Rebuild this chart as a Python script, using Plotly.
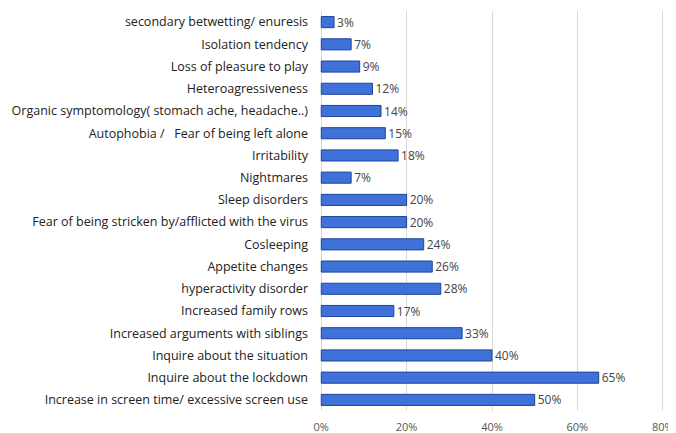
import plotly.graph_objects as go

categories = [
    "secondary betwetting/ enuresis",
    "Isolation tendency",
    "Loss of pleasure to play",
    "Heteroagressiveness",
    "Organic symptomology( stomach ache, headache..)",
    "Autophobia /   Fear of being left alone",
    "Irritability",
    "Nightmares",
    "Sleep disorders",
    "Fear of being stricken by/afflicted with the virus",
    "Cosleeping",
    "Appetite changes",
    "hyperactivity disorder",
    "Increased family rows",
    "Increased arguments with siblings",
    "Inquire about the situation",
    "Inquire about the lockdown",
    "Increase in screen time/ excessive screen use",
]
values = [3, 7, 9, 12, 14, 15, 18, 7, 20, 20, 24, 26, 28, 17, 33, 40, 65, 50]
tick_vals = [0, 20, 40, 60, 80]
tick_text = ["0%", "20%", "40%", "60%", "80%"]

fig = go.Figure(go.Bar(
    x=values,
    y=categories,
    orientation="h",
    width=0.5,
    marker=dict(color="#3E72D8", line=dict(color="#1D449A", width=1)),
    text=[f"{v}%" for v in values],
    textposition="outside",
    constraintext="none",
    textfont=dict(size=12, color="#444444"),
    cliponaxis=False,
))

# page body has an 8px margin, so the figure is offset by 8px
fig.update_layout(
    width=690, height=425,
    margin=dict(l=309, r=31, t=3, b=22, autoexpand=False),
    paper_bgcolor="white", plot_bgcolor="white",
    font=dict(family="Open Sans, Liberation Sans, sans-serif", size=12, color="#333333"),
    showlegend=False,
)
fig.update_xaxes(
    range=[-1, 81], tickvals=tick_vals, ticktext=tick_text,
    showgrid=True, gridcolor="#D9D9D9", gridwidth=1,
    zeroline=False, showline=False, automargin=False,
    ticklabeloverflow="allow", ticklabelstandoff=8,
    tickfont=dict(size=11, color="#555555"),
)
fig.update_yaxes(
    autorange="reversed", showgrid=False, showline=False,
    ticks="", ticklabelstandoff=8, automargin=False,
    tickfont=dict(size=12.5, color="#222222"),
)

fig.write_html("out.html")
